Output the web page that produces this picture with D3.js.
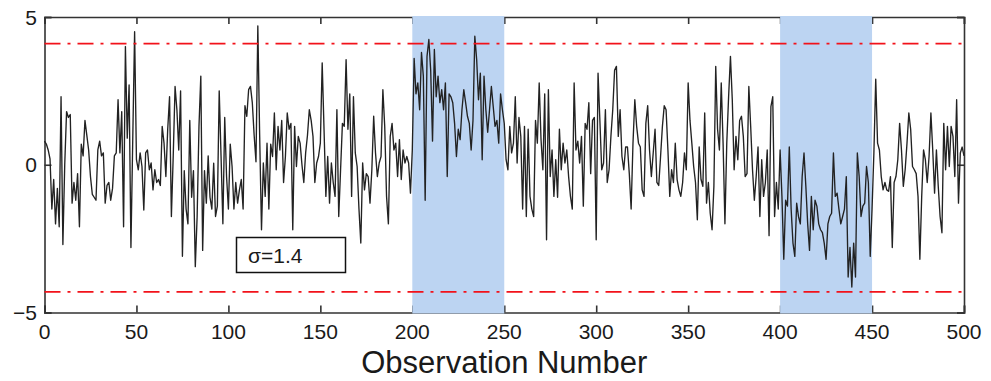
<!DOCTYPE html>
<html>
<head>
<meta charset="utf-8">
<script src="https://cdn.jsdelivr.net/npm/d3@7"></script>
<style>
  html, body { margin: 0; padding: 0; background: #fff; }
  svg { display: block; }
  text { font-family: "Liberation Sans", Arial, sans-serif; fill: #1a1a1a; }
</style>
</head>
<body>
<svg id="chart" width="991" height="381"></svg>
<script>
// Process observations, one value per observation number 0..500
const obsValues = [
  0.8, 0.7, 0.5, 0.2, -1.5, -0.5, -2.0, -0.8, -2.1, 2.3,
  -2.7, 0.0, 1.8, 1.6, 1.7, -1.3, -0.6, -1.2, -0.3, -2.1,
  0.7, 0.3, 1.5, 1.0, 0.5, -0.4, -1.0, -1.1, -1.2, 0.5,
  0.8, 0.3, 0.4, -1.3, -0.7, -0.6, -1.2, -0.8, 0.3, 0.4,
  2.2, 0.4, 1.8, -2.1, 4.0, 0.9, 2.7, -2.8, 0.9, 4.5,
  0.17, -0.17, 0.4, -0.06, -1.53, 0.4, 0.5, -0.17, 0.06, -0.85,
  -0.17, -0.6, -0.5, -0.7, 1.3, 0.73, -0.4, 1.2, 2.3, -1.75,
  0.3, 2.65, 1.86, 0.5, 2.5, -3.1, -0.2, -1.5, -2.0, 1.5,
  -1.1, -0.2, -3.45, -1.75, 1.3, 3.0, -2.9, -0.2, -1.3, 0.3,
  -1.1, -1.5, 0.05, -1.75, -1.4, 2.5, 0.3, -2.0, 1.6, -0.4,
  -1.5, 0.7, -0.06, -1.5, -0.6, -1.3, -0.85, -0.5, -1.5, 2.0,
  1.64, 2.54, 2.65, 2.1, 1.0, 0.1, 4.7, 1.0, -2.2, 0.06,
  -1.07, 0.73, -1.5, 0.7, 0.28, 1.75, -0.17, 1.3, 0.5, 1.5,
  -0.6, 0.28, 1.75, 1.2, 1.4, -2.2, 1.3, -0.06, 0.96, 0.73,
  0.0, -0.6, 0.4, 1.0, 1.86, 1.5, 0.96, -0.6, 0.06, 0.28,
  0.73, 3.45, 1.2, -1.07, 0.28, -1.3, 0.06, -0.6, -1.07, 1.86,
  -1.75, -0.17, 1.4, 1.3, 3.56, 1.2, 2.4, -1.07, 2.3, 0.4,
  -0.06, -1.5, -2.65, 0.06, -0.85, -0.3, -0.4, -1.3, -0.17, 1.64,
  0.4, -0.4, 0.06, 0.28, 2.54, 1.3, -1.07, -2.0, 0.96, 1.4,
  0.5, 0.73, -0.4, 0.85, -0.5, 0.5, 0.06, 0.28, 0.06, -0.96,
  0.5, 3.6, 2.4, 2.77, 1.86, 3.8, 3.0, -1.2, 3.67, 4.24,
  3.2, 0.8, 3.9, 2.3, 3.0, 2.1, 2.54, 1.86, 2.77, -0.4,
  2.4, 2.3, 2.1, 1.4, 0.28, 1.2, 0.85, 1.86, 2.54, 2.1,
  1.64, 1.4, 0.5, 1.5, 4.35, 3.56, 2.2, 3.1, 0.17, 3.0,
  1.86, 1.1, 1.86, 2.65, 1.97, 1.3, 1.5, 0.73, 2.4, 1.86,
  1.4, 0.17, -0.17, 1.3, 0.4, 0.73, 2.3, 0.06, 1.6, 0.96,
  -1.5, 1.3, -1.75, 1.2, -1.07, -1.5, -1.75, 1.5, 0.73, 2.77,
  0.85, -0.17, 2.4, -2.54, 2.54, -0.4, 0.5, -1.07, 0.17, -1.1,
  1.2, -0.17, 0.73, 0.06, 0.5, -0.4, -1.07, -1.5, 2.77, 0.5,
  0.8, 0.06, 0.96, -1.4, 1.4, 1.2, 2.1, -0.3, 1.5, 1.6,
  -2.54, 3.1, 1.5, -0.17, 0.06, 1.86, -0.6, -0.17, 0.96, 1.86,
  3.2, 3.33, 0.96, 1.86, 0.28, -0.17, 0.6, 0.6, -0.3, -1.5,
  0.73, 2.2, 1.3, 0.73, 0.6, -0.85, -1.07, 1.4, 2.0, 0.5,
  -0.4, 0.4, 1.2, -0.6, -0.7, 0.28, 1.3, 2.0, 1.86, 0.5,
  -1.07, -0.17, -0.6, 0.73, -0.5, -0.85, -1.07, -0.6, 0.4, -0.17,
  2.77, 1.5, 0.73, -0.06, -0.6, -1.86, 0.6, -0.5, -0.73, 1.75,
  -1.3, -0.6, -1.64, -2.2, -0.73, 3.33, 1.2, 0.5, 2.77, 0.73,
  -2.0, 0.73, 2.3, 3.67, 2.2, -0.17, 0.96, 0.17, 1.5, 1.64,
  0.96, -0.4, -0.3, 2.65, 1.3, -0.17, -1.2, -0.4, 0.6, -1.75,
  0.17, -1.07, -0.6, 0.5, -2.4, 1.97, 2.3, -1.75, -0.6, -1.5,
  0.5, -1.07, -3.2, -1.2, -1.4, 0.6, -1.5, -2.65, -3.1, -1.3,
  -1.75, -2.0, -0.4, 0.4, -0.73, -2.0, -2.9, -1.07, -2.2, -1.2,
  -1.4, -2.0, -2.2, -2.3, -2.65, -3.2, -2.0, -1.75, -1.64, 0.4,
  -1.07, -0.96, -1.5, -2.0, -1.75, -1.5, -0.4, -3.8, -2.8, -4.14,
  -2.65, -3.8, 0.4, -0.4, -1.75, -1.4, -1.3, -0.06, -0.6, -3.1,
  -1.5, 0.4, 2.9, 0.73, 0.5, -0.4, -0.85, -0.6, -0.85, -0.9,
  -0.4, -2.8, -0.6, -0.4, 0.17, 1.4, 0.5, -0.73, -0.17, 0.73,
  1.75, 1.2, -0.06, -0.17, -0.3, -1.07, -3.2, -1.07, 0.5, 0.17,
  -0.6, 0.28, 1.75, 0.5, -0.96, 0.5, -0.73, -1.75, -2.3, 1.4,
  -0.17, 1.3, -0.06, 1.3, 0.96, -0.4, 2.2, -1.3, 0.4, 0.6,
  0.3
];

// Control limits (dash-dot lines)
const controlLimits = [4.1, -4.3];
// Shifted periods highlighted in blue
const shadedRanges = [[200, 250], [400, 450]];
// Axis ticks
const xTicks = [0, 50, 100, 150, 200, 250, 300, 350, 400, 450, 500];
const yTicks = [-5, 0, 5];
const xDomain = [0, 500];
const yDomain = [-5, 5];
const sigmaLabel = "σ=1.4";
const xTitle = "Observation Number";

const svg = d3.select("#chart");
const plotLeft = 44.5, plotRight = 964, plotTop = 17, plotBottom = 312.5;

const x = d3.scaleLinear().domain(xDomain).range([plotLeft, plotRight]);
const y = d3.scaleLinear().domain(yDomain).range([plotBottom, plotTop]);

const axisColor = "#333";

// Frame with inward ticks
const gAxes = svg.append("g");
const bottomAxis = d3.axisBottom(x).tickValues(xTicks).tickSize(-7).tickFormat("");
const topAxis = d3.axisTop(x).tickValues(xTicks).tickSize(-7).tickFormat("");
const leftAxis = d3.axisLeft(y).tickValues(yTicks).tickSize(-7).tickFormat("");
const rightAxis = d3.axisRight(y).tickValues(yTicks).tickSize(-7).tickFormat("");

gAxes.append("g").attr("transform", `translate(0,${plotBottom})`).call(bottomAxis);
gAxes.append("g").attr("transform", `translate(0,${plotTop})`).call(topAxis);
gAxes.append("g").attr("transform", `translate(${plotLeft},0)`).call(leftAxis);
gAxes.append("g").attr("transform", `translate(${plotRight},0)`).call(rightAxis);
gAxes.selectAll(".domain").attr("stroke", axisColor).attr("stroke-width", 1.6);
gAxes.selectAll(".tick line").attr("stroke", axisColor).attr("stroke-width", 1.6);

// Tick labels
svg.append("g").selectAll("text").data(xTicks).join("text")
  .attr("x", d => x(d)).attr("y", 338.5)
  .attr("text-anchor", "middle").attr("font-size", 21)
  .text(d => d);
svg.append("g").selectAll("text").data(yTicks).join("text")
  .attr("x", 37).attr("y", d => y(d) + 7.5)
  .attr("text-anchor", "end").attr("font-size", 21)
  .text(d => d < 0 ? "\u2212" + Math.abs(d) : d);

// Axis title
svg.append("text")
  .attr("x", (plotLeft + plotRight) / 2).attr("y", 373)
  .attr("text-anchor", "middle").attr("font-size", 31)
  .text(xTitle);

// Highlighted ranges, drawn over the frame
svg.append("g").selectAll("rect").data(shadedRanges).join("rect")
  .attr("x", d => x(d[0])).attr("width", d => x(d[1]) - x(d[0]))
  .attr("y", plotTop - 1).attr("height", plotBottom - plotTop + 2)
  .attr("fill", "#bcd4f2");

// Observation trace
const line = d3.line()
  .x((d, i) => x(i))
  .y(d => y(d));
svg.append("path")
  .datum(obsValues)
  .attr("d", line)
  .attr("fill", "none")
  .attr("stroke", "#222")
  .attr("stroke-width", 1.35)
  .attr("stroke-linejoin", "round");

// Control limit lines
svg.append("g").selectAll("line").data(controlLimits).join("line")
  .attr("x1", x(xDomain[0])).attr("x2", x(xDomain[1]))
  .attr("y1", d => y(d)).attr("y2", d => y(d))
  .attr("stroke", "#f2121a").attr("stroke-width", 1.7)
  .attr("stroke-dasharray", "16,7,3,7");

// Sigma annotation box
const box = svg.append("g");
box.append("rect")
  .attr("x", 236.5).attr("y", 237.5).attr("width", 109).attr("height", 35)
  .attr("fill", "#fff").attr("stroke", "#111").attr("stroke-width", 1.5);
box.append("text")
  .attr("x", 248).attr("y", 263).attr("font-size", 21)
  .text(sigmaLabel);
</script>
</body>
</html>
